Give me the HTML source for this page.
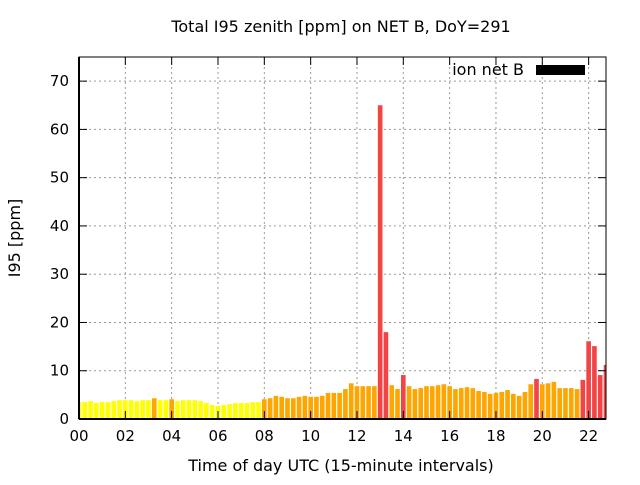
<!DOCTYPE html>
<html><head><meta charset="utf-8"><style>
body{margin:0;background:#fff}
svg text{font-family:"DejaVu Sans","Liberation Sans",sans-serif;font-size:15px;fill:#000}
svg text.big{font-size:16px}
</style></head><body>
<svg id="chart" width="640" height="480" xmlns="http://www.w3.org/2000/svg">
<rect width="640" height="480" fill="#fff"/>
<g id="grid"></g>
<g id="bars"></g>
<g id="axes"></g>
<text class="big" x="341" y="32" text-anchor="middle">Total I95 zenith [ppm] on NET B, DoY=291</text>
<text class="big" transform="translate(20,238) rotate(-90)" text-anchor="middle">I95 [ppm]</text>
<text class="big" x="341" y="471" text-anchor="middle">Time of day UTC (15-minute intervals)</text>
<g>
<text class="big" x="524" y="75" text-anchor="end">ion net B</text>
<rect x="536" y="65" width="49" height="10" fill="#000"/>
</g>
</svg>
<script>
const values = [3.5,3.5,3.7,3.3,3.5,3.5,3.7,3.9,3.9,3.9,3.7,3.9,3.9,4.3,3.9,3.9,4.1,3.7,3.9,3.9,3.9,3.7,3.3,2.9,2.7,2.9,3.1,3.3,3.3,3.3,3.5,3.5,
4.1,4.3,4.8,4.6,4.3,4.3,4.6,4.8,4.6,4.6,4.8,5.4,5.4,5.4,6.2,7.4,6.8,6.8,6.8,6.8,65,18,7.0,6.2,9.1,6.8,6.2,6.4,6.8,6.8,
7.0,7.2,6.8,6.2,6.4,6.6,6.4,5.8,5.6,5.2,5.4,5.6,6.0,5.2,4.8,5.6,7.2,8.3,7.2,7.4,7.7,6.4,6.4,6.4,6.2,8.1,16.1,15.1,9.1,11.2];
const yTicks = [0,10,20,30,40,50,60,70];
const xTicks = ["00","02","04","06","08","10","12","14","16","18","20","22"];
const NS="http://www.w3.org/2000/svg";
const L=79,R=606,T=57,B=419;
const yMax=75, xMax=22.75;
const ys=v=>B-(v/yMax)*(B-T);
const xs=h=>L+(h/xMax)*(R-L);
const step=xs(0.25)-xs(0);
function mk(tag,attrs,parent){const e=document.createElementNS(NS,tag);for(const k in attrs)e.setAttribute(k,attrs[k]);parent.appendChild(e);return e;}
const grid=document.getElementById('grid'),bars=document.getElementById('bars'),axes=document.getElementById('axes');
yTicks.forEach(t=>{
  const y=ys(t);
  if(t>0){const g=mk('line',{x1:L,x2:R,y1:y,y2:y,stroke:'#999','stroke-dasharray':'2,3'},grid);
  
  }
  mk('line',{x1:L,x2:L+8,y1:y,y2:y,stroke:'#000'},axes);
  mk('line',{x1:R,x2:R-8,y1:y,y2:y,stroke:'#000'},axes);
  const tx=mk('text',{x:L-10,y:y+5,'text-anchor':'end'},axes);tx.textContent=t;
  
  
});
xTicks.forEach(s=>{
  const x=xs(parseInt(s,10));
  if(x>L){const g=mk('line',{x1:x,x2:x,y1:T,y2:B,stroke:'#999','stroke-dasharray':'2,3'},grid);
  
  }
  mk('line',{x1:x,x2:x,y1:B,y2:B-8,stroke:'#000'},axes);
  mk('line',{x1:x,x2:x,y1:T,y2:T+8,stroke:'#000'},axes);
  const tx=mk('text',{x:x,y:B+22,'text-anchor':'middle'},axes);tx.textContent=s;
  
  
});
values.forEach((v,i)=>{
  const c=xs(i*0.25);const w=step*0.8;
  let x0=Math.max(L,c-w/2),x1=Math.min(R,c+w/2);
  if(x1<=x0)return;
  const col=v>=8?'#f24444':(v>=4?'#ffa500':'#ffff00');
  const r=mk('rect',{x:x0,y:ys(v),width:x1-x0,height:B-ys(v),fill:col},bars);
  
  
});
const f=mk('rect',{x:L,y:T,width:R-L,height:B-T,fill:'none',stroke:'#000','stroke-width':1},axes);


mk('line',{x1:L,x2:R,y1:B,y2:B,stroke:'#000','stroke-width':2},axes);
mk('line',{x1:L,x2:L,y1:T,y2:B,stroke:'#000','stroke-width':2},axes);
</script>
</body></html>
